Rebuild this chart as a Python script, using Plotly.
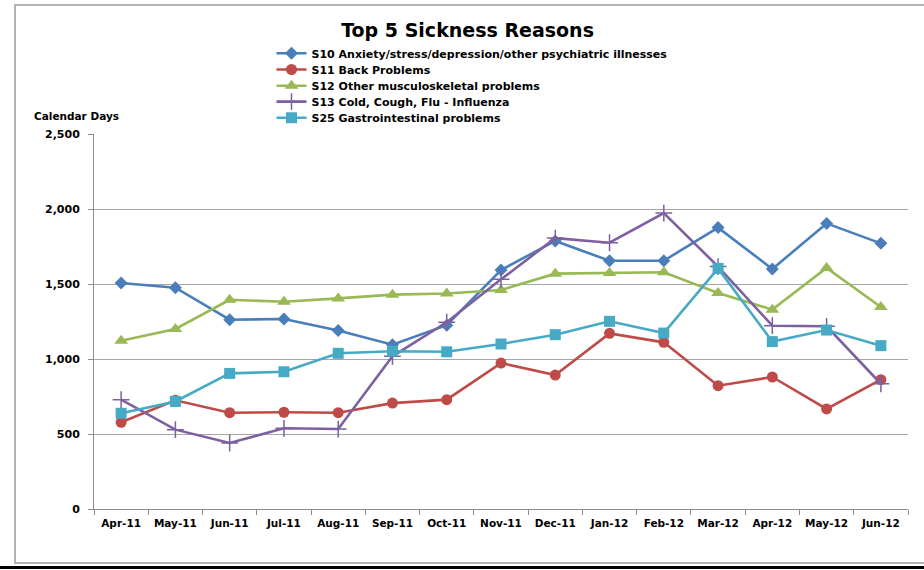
import plotly.graph_objects as go

months = ["Apr-11", "May-11", "Jun-11", "Jul-11", "Aug-11", "Sep-11", "Oct-11", "Nov-11",
          "Dec-11", "Jan-12", "Feb-12", "Mar-12", "Apr-12", "May-12", "Jun-12"]

s10 = [1507, 1475, 1262, 1267, 1190, 1095, 1225, 1593, 1787, 1655, 1655, 1876, 1600, 1904, 1771]
s11 = [578, 725, 642, 645, 642, 706, 729, 973, 893, 1171, 1111, 822, 880, 667, 862]
s12 = [1122, 1200, 1395, 1382, 1404, 1429, 1437, 1460, 1569, 1573, 1578, 1440, 1329, 1607, 1347]
s13 = [729, 529, 440, 538, 533, 1018, 1245, 1531, 1806, 1775, 1973, 1616, 1222, 1218, 835]
s25 = [638, 717, 904, 915, 1038, 1052, 1048, 1100, 1162, 1251, 1173, 1604, 1116, 1193, 1089]

names = ["S10 Anxiety/stress/depression/other psychiatric illnesses",
         "S11 Back Problems",
         "S12 Other musculoskeletal problems",
         "S13 Cold, Cough, Flu - Influenza",
         "S25 Gastrointestinal problems"]
series = [s10, s11, s12, s13, s25]
colors = ["#4A7EBB", "#BE4B48", "#98B954", "#7D60A0", "#46AAC5"]
symbols = ["diamond", "circle", "triangle-up", "cross-thin", "square"]
sizes = [10, 11, 12, 12, 11]
legend_ids = ["legend", "legend2", "legend3", "legend4", "legend5"]
legend_rows_px = [53.3, 69.5, 85.7, 101.6, 117.8]

FONT = "DejaVu Sans"

fig = go.Figure()
for name, vals, col, sym, sz, lg in zip(names, series, colors, symbols, sizes, legend_ids):
    marker = dict(symbol=sym, size=sz, color=col)
    if sym == "cross-thin":
        marker["line"] = dict(color=col, width=1.5)
    fig.add_trace(go.Scatter(
        x=months, y=vals, name=name, mode="lines+markers",
        line=dict(color=col, width=2.6), marker=marker, legend=lg,
    ))

fig.update_layout(
    width=924, height=570,
    margin=dict(l=94, r=16, t=134, b=61),
    paper_bgcolor="white", plot_bgcolor="white",
    font=dict(family=FONT, size=11, color="black"),
    title=dict(text="Top 5 Sickness Reasons", x=0.506, xanchor="center",
               y=0.947, yanchor="middle",
               font=dict(family=FONT, size=19, color="black", weight="bold")),
    showlegend=True,
)
for lg, r in zip(legend_ids, legend_rows_px):
    fig.update_layout({lg: dict(
        x=(271.5 - 94) / 814, y=(509 - r) / 375, xanchor="left", yanchor="middle",
        font=dict(family=FONT, size=11, color="black", weight="bold"),
        bgcolor="rgba(0,0,0,0)", itemwidth=30, borderwidth=0,
    )})

fig.update_xaxes(
    type="category", showline=True, linecolor="#8C8C8C", linewidth=1,
    ticks="outside", tickson="boundaries", ticklen=5, tickcolor="#8C8C8C",
    showgrid=False, tickfont=dict(family=FONT, size=10.5, color="black", weight="bold"),
    range=[-0.5, 14.5], ticklabelstandoff=4,
)
fig.update_yaxes(
    range=[0, 2500], dtick=500, tickformat=",d",
    showline=True, linecolor="#8C8C8C", linewidth=1,
    ticks="outside", ticklen=5, tickcolor="#8C8C8C",
    showgrid=True, gridcolor="#A6A6A6", gridwidth=1,
    tickfont=dict(family=FONT, size=11, color="black", weight="bold"),
    ticklabelstandoff=6, zeroline=False,
)

fig.add_annotation(text="Calendar Days", xref="paper", yref="paper",
                   x=(32 - 94) / 814, y=(509 - 116) / 375, xanchor="left", yanchor="middle",
                   showarrow=False, font=dict(family=FONT, size=10.5, color="black", weight="bold"))

# outer chart frame
fig.add_shape(type="rect", xref="paper", yref="paper",
              x0=(15 - 94) / 814, x1=(930 - 94) / 814,
              y0=(509 - 563) / 375, y1=(509 - 5) / 375,
              line=dict(color="#9A9A9A", width=1.5), fillcolor="rgba(0,0,0,0)", layer="below")
fig.add_shape(type="line", xref="paper", yref="paper",
              x0=(0 - 94) / 814, x1=(924 - 94) / 814,
              y0=(509 - 567.5) / 375, y1=(509 - 567.5) / 375,
              line=dict(color="black", width=3))

fig.write_html("out.html")
